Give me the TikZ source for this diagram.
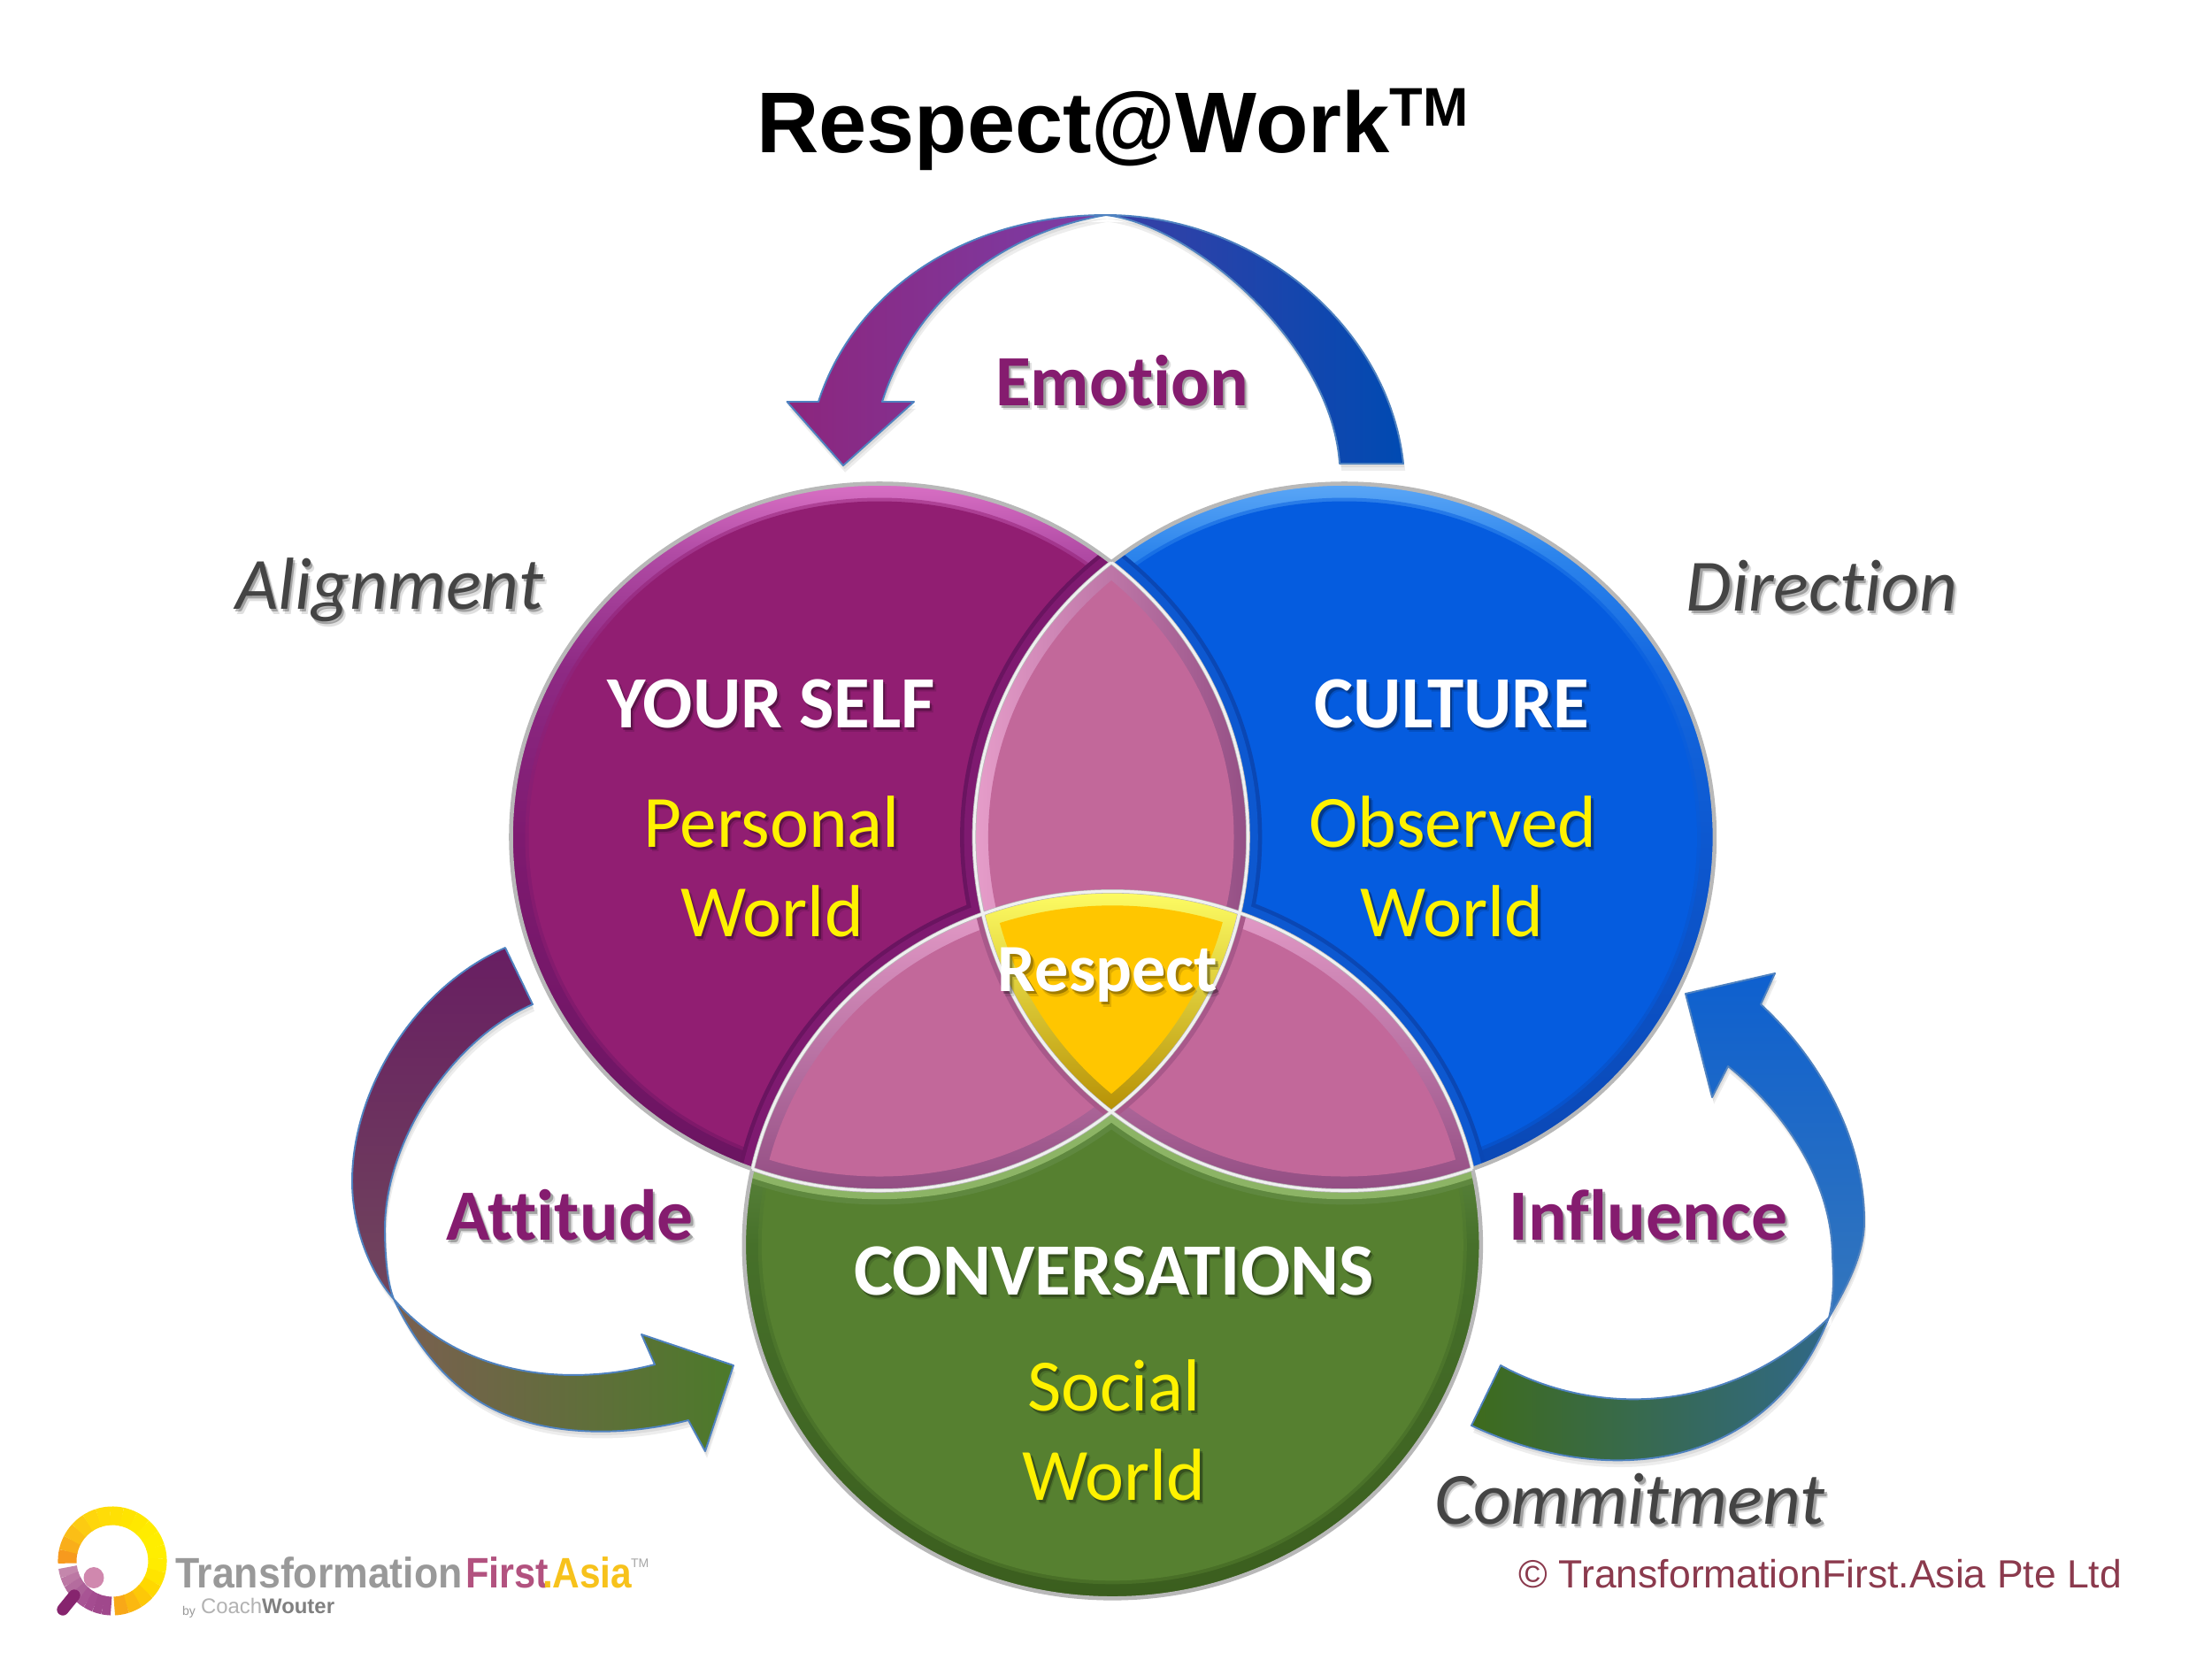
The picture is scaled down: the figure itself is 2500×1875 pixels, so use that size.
\documentclass[tikz,border=0pt]{standalone}
\usepackage{fontspec}
\usepackage{graphicx}
\setmainfont{Liberation Sans}
\newfontfamily\carl[Ligatures=NoCommon]{Carlito}
% colours
\definecolor{pbase}{HTML}{911E72}
\definecolor{bbase}{HTML}{055CDF}
\definecolor{gbase}{HTML}{568030}
\definecolor{pinkbase}{HTML}{C2689A}
\definecolor{ybase}{HTML}{FFC600}
\definecolor{lbl}{HTML}{851C6F}
\definecolor{grayt}{HTML}{444444}
\definecolor{copyc}{HTML}{8B3A4D}
\definecolor{arrowline}{HTML}{4F82C0}
\definecolor{logoleg}{HTML}{86246E}
\definecolor{logohead}{HTML}{D088AE}
\definecolor{logofirst}{HTML}{B2527F}
\definecolor{logoasia}{HTML}{F7C21C}
\definecolor{pa}{HTML}{6A1460}\definecolor{pb}{HTML}{7E1A70}\definecolor{pc}{HTML}{8E2A84}\definecolor{pd}{HTML}{B04AA4}\definecolor{pe}{HTML}{D870C4}
\definecolor{ba}{HTML}{0A47B4}\definecolor{bb}{HTML}{0D58D0}\definecolor{bc}{HTML}{1468E0}\definecolor{bd}{HTML}{2C84EC}\definecolor{be}{HTML}{5AA6F6}
\definecolor{ga}{HTML}{3B5E1E}\definecolor{gb}{HTML}{46702A}\definecolor{gc}{HTML}{98C070}
\definecolor{pinkl}{HTML}{E9A0CC}\definecolor{pinkd}{HTML}{8F4A80}\definecolor{pinkm}{HTML}{A8588A}
% bevel band shadings (bbox = 25bp..75bp, bottom to top)
\pgfdeclareverticalshading{purpleband}{100bp}{color(0bp)=(pa);color(25bp)=(pa);color(50bp)=(pb);color(62bp)=(pc);color(70bp)=(pd);color(75bp)=(pe);color(100bp)=(pe)}
\pgfdeclareverticalshading{blueband}{100bp}{color(0bp)=(ba);color(25bp)=(ba);color(50bp)=(bb);color(62bp)=(bc);color(70bp)=(bd);color(75bp)=(be);color(100bp)=(be)}
\pgfdeclareverticalshading{greenband}{100bp}{color(0bp)=(ga);color(25bp)=(ga);color(50bp)=(gb);color(75bp)=(gc);color(100bp)=(gc)}
\tikzset{
  x=0.01cm,y=-0.01cm,
  softshadow/.style={fill=black,opacity=.07},
  txt/.style={inner sep=0pt,outer sep=0pt,anchor=center},
  lensline/.style={draw=white!88!gray,line width=.85pt},
  ringline/.style={draw=black!28,line width=1.3pt},
  arrowshade/.style={draw=arrowline,line width=.55pt,line join=round},
}
\def\PE{(994,946) ellipse (416.5 and 399.5)}
\def\BE{(1519.4,946) ellipse (418.5 and 399.5)}
\def\GE{(1257.3,1406.8) ellipse (416.5 and 399.5)}
\def\PEi{(994,946) ellipse (400.5 and 383.5)}
\def\BEi{(1519.4,946) ellipse (402.5 and 383.5)}
\def\GEi{(1257.3,1406.8) ellipse (400.5 and 383.5)}
\def\PEj{(994,946) ellipse (396.5 and 379.5)}
\def\BEj{(1519.4,946) ellipse (398.5 and 379.5)}
\def\GEj{(1257.3,1406.8) ellipse (396.5 and 379.5)}
% text with soft shadow: name, position, style, text
\newcommand{\shtxt}[4]{%
  \node[txt,opacity=.12,xshift=1.2pt,yshift=-1.5pt] (#1s2) at (#2) {#3\color{black}#4};
  \node[txt,opacity=.28,xshift=.7pt,yshift=-.9pt] (#1s1) at (#2) {#3\color{black}#4};
  \node[txt] (#1) at (#2) {#3#4};}
\newcommand{\emofont}{\carl\bfseries\fontsize{23.2pt}{24pt}\selectfont\color{lbl}}
\newcommand{\sidefont}{\carl\itshape\fontsize{23.7pt}{24pt}\selectfont\color{grayt}}
\newcommand{\headfont}{\carl\bfseries\fontsize{23.7pt}{24pt}\selectfont\color{white}}
\newcommand{\subfont}{\carl\fontsize{23.7pt}{24pt}\selectfont\color{yellow}}
% arrow paths
\def\EmoR{(1586,524) .. controls (1570,370) and (1420,243) .. (1250,243) .. controls (1350,255) and (1505,390) .. (1514,524) -- cycle}
\def\EmoL{(1250,243) .. controls (1090,243) and (965,330) .. (925,454) -- (889.5,454) -- (953,526) -- (1033,454) -- (997,454) .. controls (1030,350) and (1120,265) .. (1250,243) -- cycle}
\def\AttT{(571,1071) .. controls (470,1115) and (398,1230) .. (398,1335) .. controls (398,1390) and (420,1440) .. (445,1468) .. controls (438,1450) and (435,1420) .. (435,1389) .. controls (435,1290) and (510,1175) .. (602,1135) -- cycle}
\def\AttB{(445,1468) .. controls (520,1555) and (640,1568) .. (740,1542) -- (725,1508) -- (829,1543) -- (797,1640) -- (778,1605) .. controls (700,1625) and (600,1625) .. (533,1578) .. controls (495,1552) and (465,1510) .. (445,1468) -- cycle}
\def\InfT{(2067,1489) .. controls (2090,1450) and (2107,1415) .. (2107,1380) .. controls (2107,1285) and (2055,1195) .. (1990,1135) -- (2006,1100) -- (1905,1123) -- (1935,1240) -- (1953,1205) .. controls (2010,1250) and (2071,1330) .. (2071,1421) .. controls (2073,1445) and (2072,1470) .. (2067,1489) -- cycle}
\def\InfB{(2067,1489) .. controls (1960,1595) and (1810,1605) .. (1696,1543) -- (1663,1611) .. controls (1820,1685) and (2000,1660) .. (2067,1489) -- cycle}
\newcommand{\arrowshadow}[1]{%
  \begin{scope}[xshift=.6pt,yshift=-2.2pt] \fill[softshadow] #1; \end{scope}
  \begin{scope}[xshift=.4pt,yshift=-1.2pt] \fill[softshadow] #1; \end{scope}}
\begin{document}
\begin{tikzpicture}
\useasboundingbox (0,0) rectangle (2500,1875);
\fill[white] (0,0) rectangle (2500,1875);

% ---------- curved arrows ----------
\arrowshadow{\EmoR}\arrowshadow{\EmoL}\arrowshadow{\AttT}\arrowshadow{\AttB}\arrowshadow{\InfT}\arrowshadow{\InfB}
\shade[left color={rgb,255:red,58;green,63;blue,165},right color={rgb,255:red,0;green,74;blue,178},arrowshade] \EmoR;
\shade[left color={rgb,255:red,140;green,38;blue,125},right color={rgb,255:red,122;green,62;blue,168},arrowshade] \EmoL;
\shade[top color={rgb,255:red,104;green,30;blue,98},bottom color={rgb,255:red,112;green,70;blue,92},arrowshade] \AttT;
\shade[left color={rgb,255:red,122;green,95;blue,80},right color={rgb,255:red,76;green,122;blue,42},arrowshade] \AttB;
\shade[top color={rgb,255:red,14;green,96;blue,207},bottom color={rgb,255:red,52;green,118;blue,188},arrowshade] \InfT;
\shade[left color={rgb,255:red,62;green,107;blue,28},right color={rgb,255:red,48;green,104;blue,135},arrowshade] \InfB;

% ---------- purple circle ----------
\shade[shading=purpleband] \PE;
\fill[pbase,opacity=.5] \PEi;
\fill[pbase] \PEj;
\begin{scope}\clip \PE;
  \draw[pa,line width=9pt] \BE; \draw[pa,line width=9pt] \GE;
  \draw[pb,line width=6.4pt] \BE; \draw[pb,line width=6.4pt] \GE;
\end{scope}
% ---------- blue circle ----------
\shade[shading=blueband] \BE;
\fill[bbase,opacity=.5] \BEi;
\fill[bbase] \BEj;
\begin{scope}\clip \BE;
  \draw[ba,line width=9pt] \PE; \draw[ba,line width=9pt] \GE;
  \draw[bb,line width=6.4pt] \PE; \draw[bb,line width=6.4pt] \GE;
\end{scope}
% ---------- lens purple / blue ----------
\begin{scope}\clip \PE;\clip \BE;
  \shade[left color=pinkl,right color=pinkd] (1090,500) rectangle (1430,1300);
  \begin{scope}\clip \PEi;\clip \BEi;
    \fill[pinkbase] (1090,500) rectangle (1430,1300);
  \end{scope}
\end{scope}
% ---------- green circle ----------
\shade[shading=greenband] \GE;
\fill[gbase,opacity=.5] \GEi;
\fill[gbase] \GEj;
\begin{scope}\clip \GE;
  \draw[gb!70!gc,line width=9pt] \PE; \draw[gb!70!gc,line width=9pt] \BE;
  \draw[gc!85!gb,line width=5.5pt] \PE; \draw[gc!85!gb,line width=5.5pt] \BE;
\end{scope}
% ---------- lenses with green ----------
\begin{scope}\clip \PE;\clip \GE;
  \shade[top color=pinkl,bottom color=pinkd] (840,1000) rectangle (1320,1360);
  \begin{scope}\clip \PEi;\clip \GEi;
    \fill[pinkbase] (840,1000) rectangle (1320,1360);
  \end{scope}
  \draw[pinkm,line width=4.5pt] \BE;
\end{scope}
\begin{scope}\clip \BE;\clip \GE;
  \shade[top color=pinkl,bottom color=pinkd] (1200,1000) rectangle (1680,1360);
  \begin{scope}\clip \BEi;\clip \GEi;
    \fill[pinkbase] (1200,1000) rectangle (1680,1360);
  \end{scope}
  \draw[pinkm,line width=4.5pt] \PE;
\end{scope}
% ---------- centre ----------
\begin{scope}\clip \PE;\clip \BE;\clip \GE;
  \shade[top color=yellow!60!white,bottom color=ybase!70!black] (1100,1000) rectangle (1420,1270);
  \begin{scope}\clip \PEi;\clip \BEi;\clip \GEi;
    \fill[ybase] (1100,1000) rectangle (1420,1270);
  \end{scope}
\end{scope}
% ---------- outlines ----------
\draw[ringline] \PE; \draw[ringline] \BE; \draw[ringline] \GE;
\begin{scope}\clip \PE; \draw[lensline] \BE; \draw[lensline] \GE; \end{scope}
\begin{scope}\clip \BE; \draw[lensline] \PE; \draw[lensline] \GE; \end{scope}
\begin{scope}\clip \GE; \draw[lensline] \PE; \draw[lensline] \BE; \end{scope}

% ---------- title ----------
\node[txt,anchor=base west] (title) at (855,172) {\bfseries\fontsize{27.7pt}{30pt}\selectfont Respect@Work\raisebox{.3em}{\fontsize{17.5pt}{20pt}\selectfont TM}};

% ---------- labels ----------
\shtxt{emotion}{1268,430}{\emofont}{Emotion}
\shtxt{attitude}{644,1373}{\emofont}{Attitude}
\shtxt{influence}{1863,1373}{\emofont}{Influence}
\shtxt{alignment}{440,667}{\sidefont}{Alignment}
\shtxt{direction}{2059,662}{\sidefont}{Direction}
\shtxt{commitment}{1842,1694}{\sidefont}{Commitment}
\shtxt{yourself}{871.6,795}{\headfont}{YOUR SELF}
\shtxt{personal}{872,929}{\subfont}{Personal}
\shtxt{worldp}{872.5,1030}{\subfont}{World}
\shtxt{culture}{1641,795}{\headfont}{CULTURE}
\shtxt{observed}{1642,929}{\subfont}{Observed}
\shtxt{worldb}{1641,1030}{\subfont}{World}
\shtxt{respect}{1252,1102}{\carl\bfseries\fontsize{21.7pt}{24pt}\selectfont\color{white}}{Respect}
\shtxt{conversations}{1259,1436}{\headfont}{CONVERSATIONS}
\shtxt{social}{1259,1566}{\subfont}{Social}
\shtxt{worldg}{1259,1667}{\subfont}{World}

% ---------- copyright ----------
\node[txt,anchor=base east] (copyr) at (2398,1794) {\fontsize{12.65pt}{14pt}\selectfont\color{copyc}© TransformationFirst.Asia Pte Ltd};

% ---------- logo ----------
\begin{scope}[shift={(127,1764)},y=0.01cm]
\foreach \a/\c in {183/F79A1E,168/F9AE1A,153/FBBE16,138/FCCB12,123/FED60C,108/FFDC08,93/FFE004,78/FFE400,63/FFE800,48/FFEC00,33/FFEE00,18/FFEE00,3/FFEC00,-12/FFE400,-27/FFD800,-42/FDC808,-57/FBB810,-72/F8A818}{
  \definecolor{segc}{HTML}{\c}
  \draw[segc,line width=6pt] (\a:51) arc[start angle=\a,delta angle=-15.5,radius=51];
}
\foreach \a/\c in {188/C487AC,198/BC78A4,208/B46C9E,218/AC6098,228/A85494,238/A44C90,248/A0488C,258/A0488C}{
  \definecolor{segc}{HTML}{\c}
  \draw[segc,line width=6pt] (\a:51) arc[start angle=\a,delta angle=10.5,radius=51];
}
\draw[logoleg,line width=3.8pt,line cap=round] (-43,-39) -- (-56,-55);
\fill[logohead] (-21,-19) ellipse (11.5 and 12);
\end{scope}

\node[txt,anchor=base west] (logoa) at (198,1794) {\scalebox{.926}[1]{\fontsize{13.7pt}{15pt}\selectfont\bfseries\color{black!40}Transformation}};
\node[txt,anchor=base west] (logob) at (526,1794) {\scalebox{.9}[1]{\fontsize{13.7pt}{15pt}\selectfont\bfseries\color{logofirst}First}};
\node[txt,anchor=base west] (logoc) at (613,1794) {\scalebox{.88}[1]{\fontsize{13.7pt}{15pt}\selectfont\bfseries\color{logoasia}.Asia}};
\node[txt,anchor=base west] (logot) at (713,1771) {\fontsize{4pt}{5pt}\selectfont\color{black!35}TM};
\node[txt,anchor=base west] (logod) at (206,1825) {\fontsize{4pt}{5pt}\selectfont\color{black!40}by};
\node[txt,anchor=base west] (logoe) at (227,1823) {\fontsize{6.8pt}{8pt}\selectfont\color{black!30}Coach\bfseries\color{black!50}Wouter};
\end{tikzpicture}
\end{document}
